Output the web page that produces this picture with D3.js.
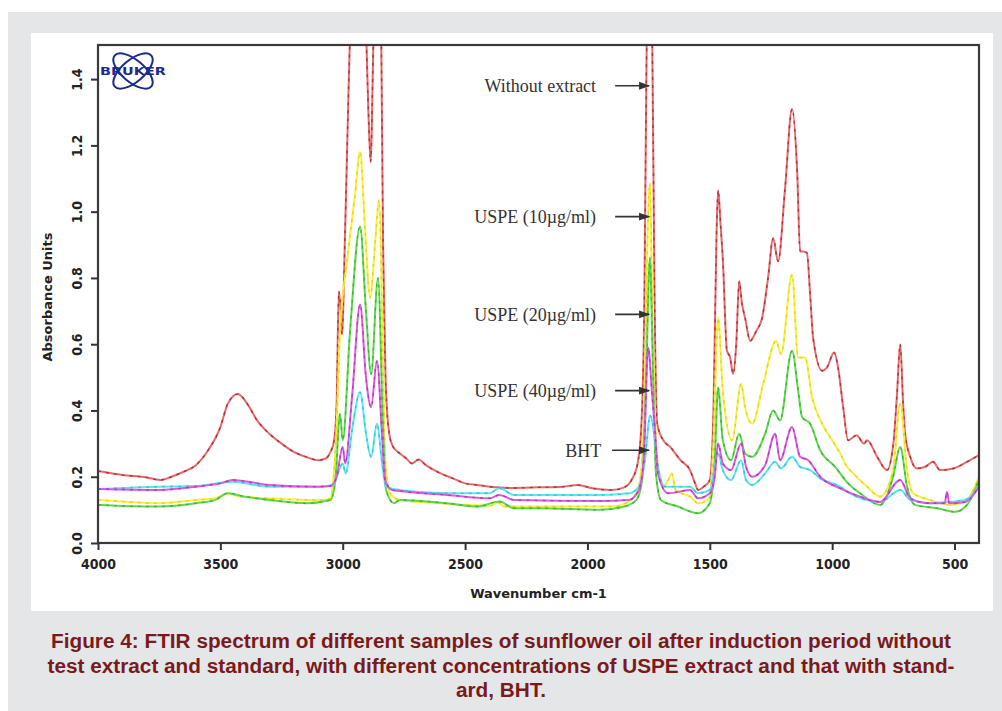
<!DOCTYPE html>
<html>
<head>
<meta charset="utf-8">
<script src="https://cdn.jsdelivr.net/npm/d3@7"></script>
<style>
  body { margin: 0; background: #fff; }
  svg { display: block; }
</style>
</head>
<body>
<div id="chart"></div>
<script>
// spectra: [wavenumber, absorbance]
var withoutExtract = [[4000,0.217],[3900,0.205],[3800,0.198],[3747,0.19],[3700,0.2],[3650,0.215],[3600,0.235],[3550,0.28],[3500,0.35],[3470,0.42],[3428,0.45],[3390,0.42],[3350,0.37],[3300,0.33],[3250,0.30],[3200,0.275],[3150,0.26],[3100,0.25],[3070,0.255],[3050,0.275],[3035,0.31],[3025,0.42],[3016,0.76],[3008,0.70],[3003,0.63],[2990,0.95],[2975,1.4],[2960,1.8],[2930,2.2],[2910,1.7],[2895,1.3],[2886,1.15],[2875,1.5],[2858,2.0],[2845,1.7],[2835,0.9],[2825,0.5],[2810,0.33],[2794,0.29],[2766,0.27],[2740,0.255],[2717,0.24],[2690,0.252],[2660,0.235],[2600,0.21],[2550,0.195],[2500,0.18],[2450,0.175],[2400,0.17],[2300,0.166],[2200,0.168],[2100,0.17],[2040,0.175],[1980,0.165],[1900,0.16],[1850,0.168],[1820,0.19],[1795,0.24],[1780,0.35],[1768,0.7],[1758,1.5],[1745,2.0],[1735,1.5],[1725,0.7],[1715,0.36],[1690,0.31],[1662,0.29],[1620,0.25],[1581,0.22],[1560,0.18],[1548,0.16],[1525,0.17],[1500,0.19],[1485,0.4],[1472,0.95],[1466,1.065],[1455,0.95],[1447,0.86],[1430,0.58],[1417,0.56],[1405,0.51],[1392,0.6],[1380,0.79],[1368,0.72],[1356,0.68],[1335,0.61],[1310,0.64],[1286,0.68],[1262,0.8],[1241,0.92],[1221,0.85],[1193,1.065],[1164,1.31],[1143,1.12],[1131,0.88],[1119,0.88],[1103,0.875],[1090,0.75],[1078,0.62],[1041,0.52],[1021,0.53],[992,0.575],[976,0.53],[955,0.41],[935,0.31],[900,0.325],[870,0.30],[857,0.31],[816,0.26],[776,0.22],[750,0.3],[735,0.45],[722,0.60],[710,0.42],[702,0.33],[681,0.26],[654,0.225],[620,0.23],[588,0.245],[559,0.22],[505,0.225],[449,0.245],[400,0.265]];

var uspe10 = [[4000,0.13],[3900,0.125],[3750,0.12],[3600,0.13],[3520,0.135],[3470,0.15],[3420,0.14],[3300,0.135],[3150,0.13],[3080,0.13],[3050,0.135],[3040,0.18],[3025,0.35],[3011,0.64],[2982,0.85],[2950,1.05],[2929,1.18],[2909,0.95],[2888,0.74],[2868,0.9],[2852,1.035],[2835,0.54],[2827,0.26],[2807,0.15],[2766,0.13],[2600,0.12],[2500,0.115],[2400,0.112],[2365,0.122],[2340,0.11],[2200,0.11],[2000,0.11],[1900,0.11],[1850,0.118],[1800,0.15],[1780,0.22],[1765,0.5],[1755,0.9],[1745,1.086],[1735,0.71],[1725,0.41],[1715,0.26],[1690,0.17],[1670,0.19],[1655,0.21],[1640,0.16],[1581,0.14],[1548,0.12],[1519,0.125],[1500,0.14],[1485,0.3],[1466,0.68],[1447,0.46],[1409,0.31],[1372,0.48],[1356,0.41],[1327,0.36],[1282,0.48],[1229,0.61],[1209,0.57],[1164,0.81],[1139,0.56],[1111,0.56],[1082,0.44],[1041,0.36],[1000,0.31],[967,0.27],[939,0.23],[914,0.21],[857,0.17],[804,0.14],[751,0.22],[722,0.42],[694,0.22],[669,0.15],[600,0.13],[518,0.115],[457,0.124],[400,0.2]];

var uspe20 = [[4000,0.115],[3900,0.112],[3750,0.11],[3600,0.12],[3520,0.13],[3470,0.15],[3400,0.14],[3300,0.13],[3150,0.12],[3050,0.13],[3030,0.19],[3011,0.39],[3000,0.31],[2970,0.64],[2929,0.955],[2905,0.7],[2884,0.51],[2856,0.8],[2835,0.34],[2823,0.16],[2790,0.12],[2766,0.13],[2574,0.12],[2450,0.11],[2360,0.125],[2300,0.105],[2200,0.105],[1950,0.1],[1850,0.11],[1800,0.13],[1775,0.2],[1760,0.5],[1745,0.86],[1732,0.51],[1720,0.21],[1700,0.13],[1630,0.11],[1548,0.09],[1500,0.12],[1480,0.25],[1466,0.47],[1447,0.31],[1413,0.25],[1380,0.33],[1356,0.27],[1327,0.26],[1274,0.33],[1241,0.40],[1213,0.37],[1164,0.58],[1139,0.46],[1123,0.38],[1090,0.36],[1049,0.28],[988,0.23],[935,0.18],[886,0.15],[804,0.115],[751,0.2],[722,0.29],[694,0.17],[661,0.115],[571,0.105],[498,0.094],[449,0.115],[400,0.19]];

var uspe40 = [[4000,0.163],[3750,0.16],[3600,0.17],[3500,0.18],[3450,0.19],[3300,0.175],[3100,0.17],[3050,0.172],[3025,0.2],[3000,0.29],[2990,0.24],[2962,0.44],[2929,0.72],[2905,0.5],[2884,0.41],[2860,0.55],[2839,0.32],[2827,0.19],[2798,0.16],[2766,0.157],[2574,0.145],[2400,0.135],[2360,0.145],[2300,0.13],[1950,0.127],[1830,0.13],[1790,0.16],[1770,0.25],[1752,0.59],[1736,0.45],[1724,0.34],[1712,0.21],[1670,0.15],[1581,0.16],[1548,0.135],[1500,0.15],[1480,0.2],[1466,0.3],[1447,0.24],[1413,0.22],[1372,0.3],[1352,0.23],[1327,0.2],[1274,0.235],[1233,0.33],[1213,0.25],[1164,0.35],[1131,0.26],[1098,0.25],[1049,0.2],[967,0.165],[886,0.14],[804,0.124],[722,0.19],[681,0.135],[600,0.12],[540,0.12],[531,0.155],[522,0.12],[457,0.124],[400,0.17]];

var bht = [[4000,0.163],[3750,0.17],[3600,0.172],[3450,0.185],[3300,0.17],[3100,0.17],[3040,0.175],[3000,0.24],[2988,0.21],[2962,0.34],[2929,0.455],[2905,0.33],[2884,0.26],[2860,0.36],[2839,0.24],[2823,0.17],[2766,0.16],[2574,0.15],[2400,0.15],[2360,0.165],[2300,0.145],[1950,0.145],[1830,0.15],[1790,0.17],[1765,0.25],[1744,0.385],[1724,0.31],[1712,0.23],[1683,0.17],[1581,0.17],[1548,0.15],[1500,0.16],[1466,0.27],[1447,0.22],[1413,0.19],[1372,0.25],[1352,0.19],[1327,0.175],[1274,0.21],[1233,0.245],[1209,0.225],[1164,0.26],[1131,0.23],[1090,0.22],[1049,0.195],[967,0.17],[939,0.155],[804,0.124],[722,0.16],[681,0.13],[600,0.12],[457,0.13],[400,0.17]];

// labels pointing at the carbonyl band, with the absorbance they sit at
var labelNames = ["Without extract", "USPE (10\u00b5g/ml)", "USPE (20\u00b5g/ml)", "USPE (40\u00b5g/ml)", "BHT"];
var labelLevels = [1.38, 0.985, 0.69, 0.46, 0.28];

var xTicks = [4000, 3500, 3000, 2500, 2000, 1500, 1000, 500];
var yTicks = [0, 0.2, 0.4, 0.6, 0.8, 1.0, 1.2, 1.4];

var captionLines = [
  "Figure 4: FTIR spectrum of different samples of sunflower oil after induction period without",
  "test extract and standard, with different concentrations of USPE extract and that with stand-",
  "ard, BHT."
];

var W = 1002, H = 711;
var margin = {top: 45, right: 23, bottom: 168, left: 98},
  width = W - margin.left - margin.right,
  height = H - margin.top - margin.bottom;

var svg = d3.select("#chart").append("svg")
  .attr("width", W)
  .attr("height", H);

// page background
svg.append("rect").attr("x", 8).attr("y", 12).attr("width", W - 8).attr("height", H - 12).attr("fill", "#e5e6e8");
svg.append("rect").attr("x", 31).attr("y", 33).attr("width", 962).attr("height", 578).attr("fill", "#fff");

var g = svg.append("g")
  .attr("transform", "translate(" + margin.left + "," + margin.top + ")");

var x = d3.scaleLinear().domain([4000, 400]).range([0, width]);
var y = d3.scaleLinear().domain([0, 1.503]).range([height, 0]);

g.append("clipPath").attr("id", "plotclip")
  .append("rect").attr("width", width).attr("height", height);

var series = [
  {data: withoutExtract, base: "#e46a6c", dash: "#a3161c"},
  {data: uspe10, base: "#f4f23a", dash: "#e6c21a"},
  {data: uspe20, base: "#5fd84e", dash: "#2ea52e"},
  {data: bht, base: "#5be6f2", dash: "#22b9cc"},
  {data: uspe40, base: "#dc5cdc", dash: "#a826b0"}
];

var line = d3.line()
  .x(d => x(d[0]))
  .y(d => y(d[1]))
  .curve(d3.curveMonotoneX);

var lines = g.append("g").attr("clip-path", "url(#plotclip)");
series.forEach(s => {
  lines.append("path").datum(s.data)
    .attr("fill", "none")
    .attr("stroke", s.base)
    .attr("stroke-width", 2)
    .attr("d", line);
  lines.append("path").datum(s.data)
    .attr("fill", "none")
    .attr("stroke", s.dash)
    .attr("stroke-width", 1.4)
    .attr("stroke-dasharray", "3,5")
    .attr("opacity", 0.7)
    .attr("d", line);
});

// frame
g.append("rect")
  .attr("width", width).attr("height", height)
  .attr("fill", "none").attr("stroke", "#3a3a3a").attr("stroke-width", 2.2);

// axes
var xAxis = g.append("g")
  .attr("transform", "translate(0," + height + ")")
  .call(d3.axisBottom(x).tickValues(xTicks).tickSize(7).tickPadding(9).tickFormat(d3.format("d")));
var yAxis = g.append("g")
  .call(d3.axisLeft(y).tickValues(yTicks).tickSize(7).tickFormat(d3.format(".1f")));

[xAxis, yAxis].forEach(a => {
  a.select(".domain").remove();
  a.selectAll(".tick line").attr("stroke", "#333").attr("stroke-width", 2);
  a.selectAll("text")
    .attr("fill", "#222")
    .style("font-family", "'DejaVu Sans Condensed', 'DejaVu Sans', sans-serif")
    .style("font-weight", "bold")
    .style("font-size", "14px");
});

yAxis.selectAll(".tick text")
  .attr("x", null).attr("dy", null)
  .attr("text-anchor", "middle")
  .attr("transform", "translate(-21,0) rotate(-90)")
  .attr("y", 5);

g.append("text")
  .attr("transform", "translate(-51," + (height / 2 + 3) + ") rotate(-90)")
  .attr("text-anchor", "middle")
  .attr("dy", "0.35em")
  .attr("fill", "#222")
  .style("font-family", "'DejaVu Sans', sans-serif")
  .style("font-weight", "bold")
  .style("font-size", "13px")
  .text("Absorbance Units");

g.append("text")
  .attr("x", width / 2).attr("y", height + 55)
  .attr("text-anchor", "middle")
  .attr("fill", "#222")
  .style("font-family", "'DejaVu Sans', sans-serif")
  .style("font-weight", "bold")
  .style("font-size", "13px")
  .text("Wavenumber cm-1");

// annotations with arrows
svg.append("defs").append("marker")
  .attr("id", "arrow").attr("viewBox", "0 0 10 10")
  .attr("refX", 9).attr("refY", 5)
  .attr("markerWidth", 7).attr("markerHeight", 7)
  .attr("orient", "auto")
  .append("path").attr("d", "M0,1.5 L10,5 L0,8.5 Z").attr("fill", "#333");

var ann = g.append("g");
var tipX = x(1752) + 1;
labelNames.forEach((name, i) => {
  var yy = y(labelLevels[i]);
  var isBht = name === "BHT";
  ann.append("text")
    .attr("x", tipX - (isBht ? 48 : 53)).attr("y", yy)
    .attr("dy", "0.35em")
    .attr("text-anchor", "end")
    .attr("fill", "#333")
    .style("font-family", "'Liberation Serif', 'Times New Roman', serif")
    .style("font-size", "18px")
    .text(name);
  ann.append("line")
    .attr("x1", tipX - (isBht ? 37 : 34)).attr("x2", tipX)
    .attr("y1", yy).attr("y2", yy)
    .attr("stroke", "#333").attr("stroke-width", 1.6)
    .attr("marker-end", "url(#arrow)");
});

// Bruker logo
var logo = g.append("g").attr("transform", "translate(35,26)");
logo.append("ellipse").attr("rx", 24).attr("ry", 11).attr("transform", "rotate(40)")
  .attr("fill", "none").attr("stroke", "#1c2a8c").attr("stroke-width", 2);
logo.append("ellipse").attr("rx", 24).attr("ry", 11).attr("transform", "rotate(-40)")
  .attr("fill", "none").attr("stroke", "#1c2a8c").attr("stroke-width", 2);
logo.append("text")
  .attr("text-anchor", "middle").attr("dy", "0.35em")
  .attr("fill", "#1c2a8c")
  .style("font-family", "'DejaVu Sans', sans-serif")
  .style("font-weight", "bold")
  .style("font-size", "10px")
  .attr("textLength", 66).attr("lengthAdjust", "spacingAndGlyphs")
  .text("BRUKER");

// caption: squeeze every line by the same factor so the first spans 900px
var cap = svg.append("g");
var capText = cap.selectAll("text")
  .data(captionLines)
  .enter().append("text")
    .attr("x", 501)
    .attr("y", (d, i) => 648 + i * 24.5)
    .attr("text-anchor", "middle")
    .attr("fill", "#7b1a1c")
    .style("font-family", "'Liberation Sans Narrow', 'Arial Narrow', 'Liberation Sans', sans-serif")
    .style("font-weight", "bold")
    .style("font-size", "20px")
    .text(d => d);
var natural = capText.nodes().map(n => n.getComputedTextLength());
var squeeze = 900 / natural[0];
capText
  .attr("textLength", (d, i) => natural[i] * squeeze)
  .attr("lengthAdjust", "spacingAndGlyphs");
</script>
</body>
</html>
